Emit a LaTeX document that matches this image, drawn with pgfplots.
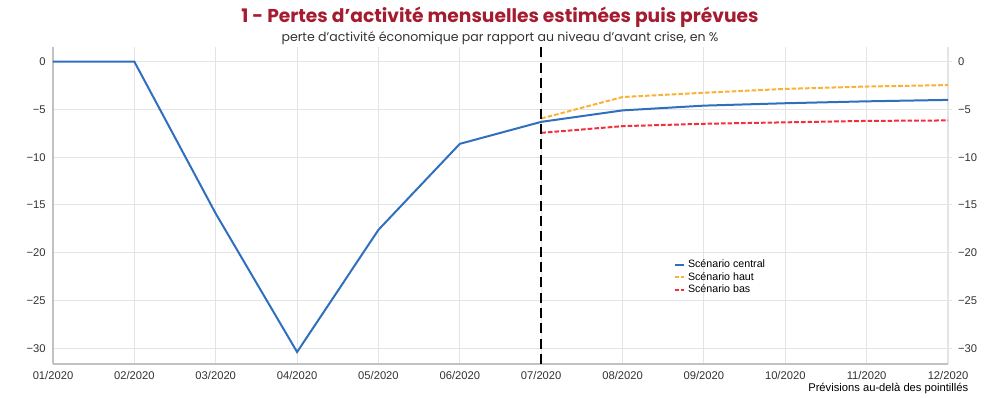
\documentclass[border=0pt]{standalone}
\usepackage{fontspec}
\setmainfont{Liberation Sans}
\newfontfamily\titlefont{Poppins}
\usepackage{pgfplots}
\usepackage{pgfplotstable}
\pgfplotsset{compat=1.18}
\definecolor{cblue}{HTML}{2F6FBE}
\definecolor{corange}{HTML}{F9B233}
\definecolor{cred}{HTML}{F0303E}
\definecolor{ctitle}{HTML}{A51C30}
\definecolor{cgrid}{HTML}{E2E4E6}
\definecolor{caxis}{HTML}{BFC3C6}
\definecolor{ctext}{HTML}{333333}

\pgfplotstableread{
x y
0 0
1 0
2 -15.9
3 -30.4
4 -17.6
5 -8.6
6 -6.3
7 -5.1
8 -4.6
9 -4.35
10 -4.15
11 -4.0
}\central
\pgfplotstableread{
x y
6 -5.95
7 -3.7
8 -3.25
9 -2.85
10 -2.6
11 -2.45
}\haut
\pgfplotstableread{
x y
6 -7.45
7 -6.75
8 -6.5
9 -6.35
10 -6.2
11 -6.15
}\bas

\begin{document}
\begin{tikzpicture}[x=0.75pt,y=0.75pt]
\useasboundingbox (0,0) rectangle (1000,398);
\begin{axis}[
  at={(53*0.75pt,34*0.75pt)}, anchor=south west,
  scale only axis, width=895*0.75pt, height=317*0.75pt,
  xmin=0, xmax=11, ymin=-31.65, ymax=1.54,
  xtick={0,...,11},
  xticklabels={01/2020,02/2020,03/2020,04/2020,05/2020,06/2020,07/2020,08/2020,09/2020,10/2020,11/2020,12/2020},
  ytick={-30,-25,-20,-15,-10,-5,0},
  yticklabels={−30,−25,−20,−15,−10,−5,0},
  grid=major, grid style={cgrid, line width=0.8pt},
  axis x line*=bottom, axis y line*=left,
  axis line style={caxis, line width=1.6pt},
  x axis line style={-}, y axis line style={-},
  major tick length=0pt,
  tick label style={font=\fontsize{8.4}{9}\selectfont, text=ctext},
  xticklabel style={yshift=-2pt},
  yticklabel style={xshift=-2pt},
  legend style={at={(0.693,0.338)}, anchor=north west, draw=none, fill=none,
    font=\fontsize{8}{8.5}\selectfont, row sep=-2pt, inner sep=0pt},
  legend cell align=left,
  legend image code/.code={\draw[#1] (0cm,0cm) -- (0.26cm,0cm);},
]
\addplot[cblue, line width=1.5pt] table {\central};
\addlegendentry{Scénario central}
\addplot[corange, line width=1.5pt, dash pattern=on 3.5pt off 1.5pt] table {\haut};
\addlegendentry{Scénario haut}
\addplot[cred, line width=1.5pt, dash pattern=on 3.5pt off 1.5pt] table {\bas};
\addlegendentry{Scénario bas}
\draw[black, line width=1.8pt, dash pattern=on 7.5pt off 4pt] (axis cs:6,-31.65) -- (axis cs:6,1.54);
\end{axis}
\begin{axis}[
  at={(53*0.75pt,34*0.75pt)}, anchor=south west,
  scale only axis, width=895*0.75pt, height=317*0.75pt,
  xmin=0, xmax=11, ymin=-31.65, ymax=1.54,
  axis x line=none, axis y line*=right,
  y axis line style={draw=none},
  ytick={-30,-25,-20,-15,-10,-5,0},
  yticklabels={−30,−25,−20,−15,−10,−5,0},
  ytick style={cgrid, line width=0.8pt},
  major tick length=3pt,
  tick align=outside,
  tick label style={font=\fontsize{8.4}{9}\selectfont, text=ctext},
  yticklabel style={xshift=1pt},
]
\addplot[draw=none] coordinates {(0,0)};
\end{axis}
\node[anchor=center, font=\titlefont\bfseries\fontsize{14}{16}\selectfont, text=ctitle] at (500,381) {1 - Pertes d’activité mensuelles estimées puis prévues};
\node[anchor=center, font=\titlefont\fontsize{9.4}{11}\selectfont, text=ctext] at (500,360) {perte d’activité économique par rapport au niveau d’avant crise, en \%};
\node[anchor=east, font=\fontsize{8.4}{9}\selectfont, text=black] at (973,9) {Prévisions au-delà des pointillés};
\end{tikzpicture}
\end{document}
